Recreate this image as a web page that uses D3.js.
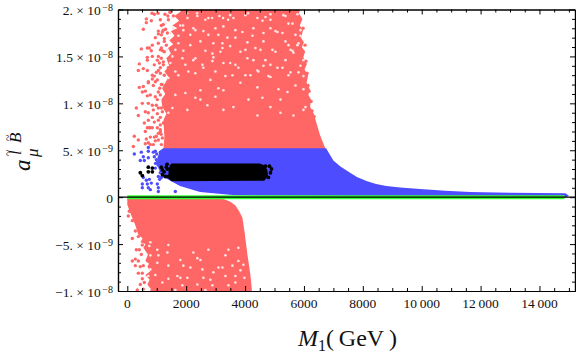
<!DOCTYPE html>
<html>
<head>
<meta charset="utf-8">
<script src="https://cdn.jsdelivr.net/npm/d3@7"></script>
<style>
body { margin: 0; background: #fff; }
svg { display: block; }
text { font-family: "Liberation Serif", serif; fill: #111; }
</style>
</head>
<body>
<div id="chart"></div>
<script>
//all a values are in units of 1e-9, M1 in GeV
var xMajor = [0, 2000, 4000, 6000, 8000, 10000, 12000, 14000];
var xLabels = ["0", "2000", "4000", "6000", "8000", "10\u2009000", "12\u2009000", "14\u2009000"];
var xMinor = [500, 1000, 1500, 2500, 3000, 3500, 4500, 5000, 5500, 6500, 7000, 7500, 8500, 9000, 9500,
	10500, 11000, 11500, 12500, 13000, 13500, 14500, 15000];
var yMajor = [20, 15, 10, 5, 0, -5, -10];
var yMantissa = ["2.", "1.5", "1.", "5.", "0", "\u22125.", "\u22121."];
var yExponent = ["\u22128", "\u22128", "\u22128", "\u22129", "", "\u22129", "\u22128"];
var yMinor = [19, 18, 17, 16, 14, 13, 12, 11, 9, 8, 7, 6, 4, 3, 2, 1, -1, -2, -3, -4, -6, -7, -8, -9];

// solid parts of each cloud, outlines
var redUpperOutline = [[1224,5],[1260,6.5],[1224,8.2],[1330,8.9],[1190,9.6],[1156,10.4],[1290,11],[1180,11.6],[1292,12.2],
	[1400,12.8],[1260,13.4],[1420,14],[1326,14.8],[1480,15.3],[1380,15.9],[1560,16.3],[1428,16.7],[1600,17.2],[1480,17.7],
	[1700,18],[1530,18.3],[1760,18.8],[1600,19.3],[1820,19.8],[1666,20.5],
	[5916,20.5],[5830,19.6],[5950,19],[5860,18.3],[5970,17.8],[5900,17],[6000,16.5],[5930,16],[6038,15.5],[5980,14.9],
	[6100,14.2],[6020,13.6],[6140,13],[6090,12.2],[6200,11.5],[6150,10.9],[6242,10.4],[6210,9.6],[6320,9],[6378,8.4],
	[6548,6.6],[6752,5]];
var redLowerOutline = [[0,-0.1],[3264,-0.2],[3500,-0.5],[3672,-0.9],[3800,-1.5],[3910,-2.2],[3978,-3.6],[4080,-6.1],[4182,-8.3],[4250,-10.5],
	[714,-10.5],[800,-9.8],[680,-9.3],[760,-8.8],[612,-8.3],[780,-7.9],[680,-7.4],[740,-7.1],[612,-6.8],[700,-6.1],[544,-5.4],
	[620,-5],[442,-4.8],[520,-4.4],[374,-4],[272,-3],[102,-1.7],[0,-0.8]];
var blueOutline = [[1224,5.2],[6752,5.2],[7000,3.9],[7228,3.3],[7568,2.6],[7800,2.15],[8146,1.7],[8452,1.4],[8800,1.2],[9268,1.02],[9948,0.87],
	[10800,0.68],[11650,0.56],[13010,0.47],[14880,0.43],[15000,0.14],[14900,0],[3660,0.2],[2470,0.55],[1790,1.2],[1292,2.05],
	[1190,2.15],[1054,3.1],[1020,4.2],[1122,5]];
var blackOutline = [[1450,3.4],[1500,3.6],[4500,3.6],[4650,3.4],[4700,3.2],[4760,2.9],[4780,2.2],[4650,1.75],[1500,1.7],[1400,2],[1400,3]];

// points standing clear of the solid parts
var redPoints = [[840,19.6],[918,19.5],[1044,19.6],[646,19],[646,18.6],[816,18.8],[544,17.9],[1054,17.7],[1156,18.3],
	[1224,18.4],[952,17],[1054,17.4],[1190,17.6],[1258,16.9],[476,15.8],[680,15.9],[748,15.9],[850,16.2],[816,15.6],
	[1054,16.4],[1258,16.6],[1122,15.7],[680,14.9],[850,15],[680,14.6],[1054,15],[1156,14.8],[408,14.2],[374,13.5],
	[544,13.7],[680,13.5],[918,14.1],[1088,14.3],[1054,13.5],[1224,14.1],[850,13],[918,12.9],[850,12.6],[1258,13],
	[1122,13.2],[1360,13.4],[714,12.3],[1020,12.5],[1394,13.8],[408,11.7],[544,11.8],[714,12.2],[510,11.2],[612,11.3],
	[680,10.8],[884,11.9],[952,12.3],[306,9.5],[510,10],[714,10],[850,9.8],[374,8.7],[612,9.1],[714,9],[986,9.8],
	[1020,10.4],[1054,9.5],[578,7.9],[850,8.5],[918,8],[714,8.2],[1122,8.5],[1190,9.1],[680,7.4],[748,7.4],[612,7],
	[1020,7.4],[1224,7.9],[238,6.5],[374,6.1],[782,6.4],[646,6.2],[918,6.4],[1054,6.8],[612,5.7],[714,5.8],[204,5.4],
	[1054,6.1],[1190,6.3],[1156,5.6],[884,5.6],[1120,7.2],[1150,6.7],[1100,11.6],[1180,12],[1200,15.6],[1300,17.9],[1380,19.3],[1450,19.7],
	[1280,19.5],[1394,18.9],[1224,17.8],[1360,17.5],[1462,19.7],[1564,19.3],[1122,18.9],[1326,16.2],[1156,17.3],[1258,15.5],
	[1156,15.9],[1020,14.6],[1224,14.4],[1122,13.8],[986,13.3],[1156,12],[1054,11.2],[952,10.7],[1122,10.9],[782,10.9],
	[884,9.3],[1020,8.9],[850,7.4],[986,6.5],[1122,7.7],[1156,9.5],[1054,8.2],[782,7.4],[1122,7],[952,6],[782,5.6],
	// lower branch
	[68,-1.5],[34,-2],[170,-2.5],[170,-4.4],[374,-4.2],[272,-3.6],[306,-5.6],[408,-5.6],[510,-5.1],[170,-6.8],[272,-6.6],
	[374,-6.8],[272,-7.3],[374,-8.1],[510,-8.1],[544,-7.3],[510,-8.7],[340,-9.9],[442,-9.3],[544,-9.8],[476,-6.1],[442,-7.4],[578,-9.1],
	// right edge
	[5970,18],[6038,16.2],[5970,15.5],[6072,14.5],[6106,13.2],[6140,11.9],[6174,11.3],[6242,10.2],[6276,9.2],[6344,8.6],[6378,7.6]];
var bluePoints = [[238,4.6],[476,4.8],[714,4.9],[714,5.3],[952,4.9],[884,4.8],[544,4.3],[442,3.9],[578,3.9],[714,4.2],
	[918,4.3],[986,4],[1054,3.4],[646,1.8],[748,1.9],[510,1.4],[510,1],[680,1.4],[714,1],[816,1.5],[782,0.8],[1020,1.4],
	[1054,1],[1054,0.6],[1632,0.6],[544,2.1],[952,3.1],[1054,2.2],[1156,2.1],[1122,4.8],[1000,4.6],[1020,3.7],[960,3.6],[1120,2.6],[1100,1.9]];
var blackPoints = [[442,2.6],[510,2.3],[714,3.2],[850,3.1],[714,2.7],[850,2.7],[1156,3.2],[1326,3.2],[1190,2.9],[1360,3],
	[1190,2.4],[1292,2.2],[4828,3.3],[4896,3],[4862,2.6],[4794,2.1],[4692,3.3],[1250,2.7],[1400,2.2],[1350,3.5]];

// places where the red cloud leaves the paper showing
var redGaps = [[1894,18.3],[2370,19.6],[2030,19.6],[3254,19.1],[3424,18.9],[2880,19.1],[5100,17.6],[4624,17.5],[4692,19.2],
	[4420,19.1],[5474,18.5],[3910,17.6],[4080,16.5],[3842,15.5],[3230,16.4],[5032,15.5],[5474,16.2],[5542,15.7],[5100,13.8],
	[5542,13.3],[4862,12.8],[4420,13.5],[5984,11.5],[5440,11.2],[5134,11.5],[4590,10.6],[5202,10.4],[4114,10.4],[3264,11.4],
	[3264,14.3],[2244,14.6],[2924,14.9],[2754,17.3],[2312,17.8],[3672,14.1],[4420,11.7],[3570,13],[2822,12.5],[3842,12.2],
	[6052,9.6],[3264,9.3],[4862,9.6],[2040,9.3],[5270,17.5],[5780,19.5],[5882,17.8],[5814,16.4],[5984,14.6],[5814,13.3],
	[5712,11.9],[5032,17.7],[4590,18.8],[4284,18],[3604,19.1],[3774,13.8],[5644,15.4],[4454,13.4],[3400,17],[4624,16.6],
	[4080,14.8],[4862,14.1],[1802,18.3],[1530,19.1],[1394,17],[1734,16.4],[2142,17.3],[1632,15.7],[2312,14.8],[1904,17.8],
	[2244,18],[2584,17.7],[2924,16.4],[2652,15.6],[1462,14.3],[1972,14.1],[2890,14.5],[1632,13.4],[2312,13.2],[1632,10.9],
	[1972,11.1],[2312,10.6],[1394,9],[1530,9.5],[2720,9.8],[2992,10.7],[2482,11.4],[3094,11.6],[2652,18.9],[4012,19.4],
	[5304,19.4],[2992,18],[3672,17],[4352,15.9],[4692,14.6],[3162,15.5],[2584,13.8],[4182,13],[5372,14.6],[5712,17.3],[4862,18.9],
	[3494,19.4],[4100,19.6],[4862,19.5],[5372,19.3],[5610,18.5],[4862,18],[4250,17.2],[3672,17.8],[3264,18.2],[3494,16.1],
	[4012,15.7],[4522,15.7],[4930,15.7],[5372,16.6],[5780,16.2],[5610,15.6],[5882,17.2],[4284,14.6],[3494,14.3],[4624,14],
	[5270,13.8],[5882,14],[5474,13],[4012,13],[3332,12.9],[4794,12.9],[5984,12.9],[1292,18.6],[1564,18],[1462,17.5],[2044,19.1],
	[2380,19.3],[2754,19.1],[3128,19.3],[1734,17.2],[2142,16.2],[2482,16.6],[3094,17.3],[3230,15.9],[1904,15.6],[1360,15.7],
	[1530,15],[2890,15.3],[1870,14.8],[2550,14.1],[2074,13.4],[1734,13],[2992,13.4],[1394,12.7],[2482,10.4],[3604,9.6],[5644,8.7],
	[5984,9.3],[5202,9],[4420,8.7],
	// lower branch
	[782,-4.8],[748,-5.2],[1020,-5.6],[952,-8.3],[1394,-8.7],[2142,-7.5],[2550,-7.7],[2482,-6.7],[2244,-5.9],[3094,-7.5],
	[3230,-7.5],[3842,-7.8],[3774,-5.4],[3434,-5.6],[1802,-8.6],[2380,-9.3],[2822,-8.8],[3332,-8.4],[3434,-9.4],[1870,-9.4],
	[1190,-9.1],[1020,-7],[1394,-5.1],[2754,-5.6],[1360,-5.9],[1904,-7.3],[2890,-9.4],[3672,-9.1],[3944,-7.2],[782,-7.7],
	[1054,-6.2],[1394,-7.3],[1700,-8.4],[2040,-8.6],[2584,-8.6],[2924,-8],[3570,-7.3],[3774,-6.8],[3332,-6.2],[2380,-6.5],
	[1802,-6.7],[782,-6.2],[714,-8.4],[2652,-9.9],[1632,-9.9],[3672,-8.4],[3978,-8.6]];
var greenLine = [[0,0],[14850,0]];

(function() {
	"use strict";
	var width = 576, height = 353;
	var left = 118, right = 575, top = 9.5, bottom = 291;
	var x = d3.scaleLinear().domain([-316, 15207]).range([left, right]);
	var y = d3.scaleLinear().domain([-10, 20]).range([bottom, top]);
	var outline = d3.line().x(function(d) { return x(d[0]); }).y(function(d) { return y(d[1]); });

	var svg = d3.select("#chart").append("svg").attr("width", width).attr("height", height);
	svg.append("defs").append("clipPath").attr("id", "plot").append("rect")
		.attr("x", left).attr("y", top).attr("width", right - left).attr("height", bottom - top);
	var vis = svg.append("g").attr("clip-path", "url(#plot)");

	function drawArea(pts, colour) {
		vis.append("path").attr("d", outline(pts) + "Z").attr("fill", colour);
	}
	function drawDots(pts, colour, r) {
		vis.append("g").selectAll("circle").data(pts).enter().append("circle")
			.attr("cx", function(d) { return x(d[0]); })
			.attr("cy", function(d) { return y(d[1]); })
			.attr("r", r)
			.attr("fill", colour);
	}

	drawDots(redPoints, "#ff6666", 1.7);
	drawArea(redUpperOutline, "#ff6666");
	drawArea(redLowerOutline, "#ff6666");
	drawDots(redGaps, "#ffe4e4", 1.3);
	drawDots(bluePoints, "#4d4dff", 1.7);
	drawArea(blueOutline, "#4d4dff");
	drawDots(blackPoints, "#000000", 1.9);
	drawArea(blackOutline, "#000000");
	vis.append("path").attr("d", outline(greenLine)).attr("stroke", "#33ff33").attr("stroke-width", 4).attr("fill", "none");

	// zero line
	svg.append("line").attr("x1", left).attr("x2", right).attr("y1", y(0)).attr("y2", y(0))
		.attr("stroke", "#000").attr("stroke-width", 1.2);

	function frameSide(axisFn, scale, values, size, tx, ty) {
		return svg.append("g").attr("transform", "translate(" + tx + "," + ty + ")")
			.call(axisFn(scale).tickValues(values).tickSize(-size).tickSizeOuter(0).tickFormat(""));
	}
	[[xMajor, 5], [xMinor, 3]].forEach(function(t) {
		frameSide(d3.axisBottom, x, t[0], t[1], 0, bottom);
		frameSide(d3.axisTop, x, t[0], t[1], 0, top);
	});
	[[yMajor, 5], [yMinor, 3]].forEach(function(t) {
		frameSide(d3.axisLeft, y, t[0], t[1], left, 0);
		frameSide(d3.axisRight, y, t[0], t[1], right, 0);
	});
	svg.selectAll(".domain").attr("stroke-width", 1.2);

	svg.append("g").selectAll("text").data(xMajor).enter().append("text")
		.attr("x", function(d) { return x(d); })
		.attr("y", 308)
		.attr("text-anchor", "middle")
		.attr("font-size", 13.5)
		.text(function(d, i) { return xLabels[i]; });

	yMajor.forEach(function(v, i) {
		var label = svg.append("text")
			.attr("x", 113)
			.attr("y", y(v) + 5.5)
			.attr("text-anchor", "end")
			.attr("font-size", 13.5);
		if(yExponent[i] === "") {
			label.text(yMantissa[i]);
			return;
		}
		label.append("tspan").text(yMantissa[i] + " \u00d7 10");
		label.append("tspan").attr("dy", -4).attr("dx", 1.5).attr("font-size", 10).text(yExponent[i]);
	});

	// x title
	var xTitle = svg.append("text").attr("x", 298).attr("y", 346).attr("font-size", 24);
	xTitle.append("tspan").attr("font-style", "italic").text("M");
	xTitle.append("tspan").attr("dy", 5).attr("font-size", 16).text("1");
	xTitle.append("tspan").attr("dy", -5).text("(\u2009GeV\u2009)");

	// y title, one glyph at a time because of the stacked sub and superscripts
	function sideGlyph(txt, tx, ty, size, italic) {
		svg.append("text")
			.attr("transform", "translate(" + tx + "," + ty + ") rotate(-90)")
			.attr("font-size", size)
			.attr("font-style", italic ? "italic" : "normal")
			.text(txt);
	}
	sideGlyph("a", 30, 171, 23, true);
	sideGlyph("\u03bc", 38, 157, 17, true);
	sideGlyph("l", 21, 155, 17, true);
	sideGlyph("B", 21, 143, 17, true);
	sideGlyph("~", 12, 156, 12, false);
	sideGlyph("~", 12, 141, 12, false);
}());
</script>
</body>
</html>
